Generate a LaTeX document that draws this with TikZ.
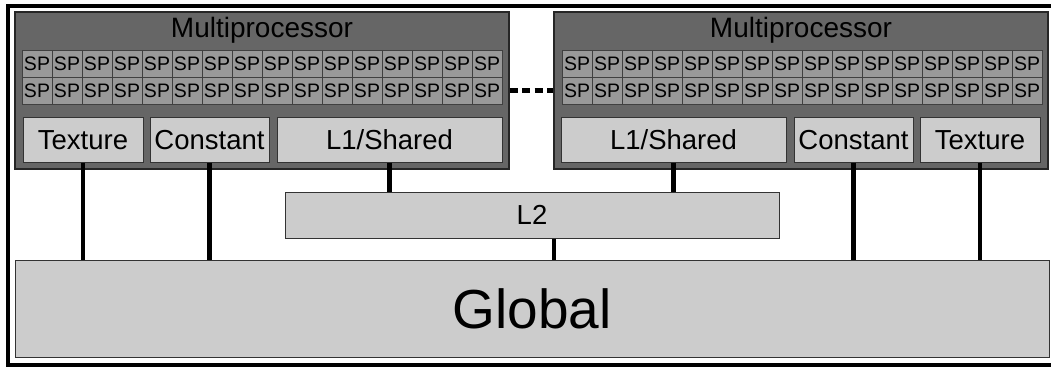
\documentclass[tikz,border=0pt]{standalone}
\usepackage{fontspec}
\setmainfont{Liberation Sans}

\definecolor{mpgray}{HTML}{666666}
\definecolor{spgray}{HTML}{999999}
\definecolor{boxgray}{HTML}{CCCCCC}

\tikzset{
    mp/.style={draw=black!85, line width=1.2pt, fill=mpgray, minimum width=494pt, minimum height=157pt, inner sep=0pt},
    sp/.style={draw=black!75, line width=0.8pt, fill=spgray, minimum width=30pt, minimum height=27pt, inner sep=0pt, font=\fontsize{19.5}{20}\selectfont, text height=14pt, text depth=0pt},
    unit/.style={draw=black!80, line width=1pt, fill=boxgray, inner sep=0pt, minimum height=45pt, font=\fontsize{27.5}{28}\selectfont, text height=19.7pt, text depth=0pt},
    title/.style={anchor=base, font=\fontsize{28}{28}\selectfont},
    link/.style={line width=4.5pt},
}

\begin{document}
\begin{tikzpicture}[x=1pt, y=-1pt]
    \useasboundingbox (0,0) rectangle (1051,370);
    \draw [line width=4pt] (8,5.5) rectangle (1059,365);

    % memories
    \node [unit, minimum width=1034pt, minimum height=97pt, font=\fontsize{55}{56}\selectfont, text height=39.4pt] (global) at (532,308.5) {Global};
    \node [unit, minimum width=494pt, minimum height=46pt] (ltwo) at (532,215) {L2};

    % multiprocessors
    \node [mp] (mpL) at (262,90.5) {};
    \node [mp] (mpR) at (801,90.5) {};
    \node [title] (titleL) at (262,37) {Multiprocessor};
    \node [title] (titleR) at (801,37) {Multiprocessor};

    \foreach \i in {0,...,15}{
        \foreach \r/\y in {0/63.5, 1/90.5}{
            \node [sp] (spL-\r-\i) at (37+30*\i,\y) {SP};
            \node [sp] (spR-\r-\i) at (577+30*\i,\y) {SP};
        }
    }

    \node [unit, minimum width=120pt] (texL) at (83,139.5) {Texture};
    \node [unit, minimum width=119pt] (conL) at (209.5,139.5) {Constant};
    \node [unit, minimum width=225pt] (lonL) at (389.5,139.5) {L1/Shared};
    \node [unit, minimum width=225pt] (lonR) at (673.5,139.5) {L1/Shared};
    \node [unit, minimum width=119pt] (conR) at (853.5,139.5) {Constant};
    \node [unit, minimum width=120pt] (texR) at (980,139.5) {Texture};

    % connections
    \draw [link, dash pattern=on 8pt off 4.5pt] (mpL.east) -- (mpR.west);
    \foreach \u in {texL, conL, conR, texR}
        \draw [link] (\u.south) -- (\u.south |- global.north);
    \foreach \u in {lonL, lonR}
        \draw [link] (\u.south) -- (\u.south |- ltwo.north);
    \draw [link] ([xshift=22pt]ltwo.south) -- ([xshift=22pt]ltwo.south |- global.north);
\end{tikzpicture}
\end{document}
